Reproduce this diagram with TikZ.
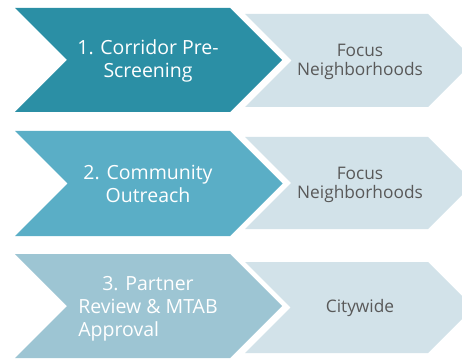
\documentclass[tikz,border=0pt]{standalone}
\usepackage{fontspec}
\usepackage{calc}
\setmainfont{Open Sans}
\definecolor{rowone}{HTML}{2B8FA5}
\definecolor{rowtwo}{HTML}{5AAEC6}
\definecolor{rowthree}{HTML}{9DC5D3}
\definecolor{lightbox}{HTML}{D2E2E9}
\definecolor{graytext}{HTML}{595959}
\begin{document}
\begin{tikzpicture}[x=1pt,y=-1pt,
  darktext/.style={text=white,font=\fontsize{19.5}{23}\selectfont,align=center,inner sep=0pt},
  lighttext/.style={text=graytext,font=\fontsize{17.3}{19.5}\selectfont,align=center,inner sep=0pt}]
\useasboundingbox (0,0) rectangle (462,358);
\clip (0,0) rectangle (462,358);
% dark chevrons
\fill[rowone] (15,8) -- (230,8) -- (282,60) -- (230,112) -- (15,112) -- (67,60) -- cycle;
\fill[rowtwo] (15,131) -- (230,131) -- (282.5,183.5) -- (230,236) -- (15,236) -- (67.5,183.5) -- cycle;
\fill[rowthree] (15,254) -- (230,254) -- (282,306) -- (230,358) -- (15,358) -- (67,306) -- cycle;
% light chevrons
\fill[lightbox] (245,14) -- (428,14) -- (474.5,60.5) -- (428,107) -- (245,107) -- (291.5,60.5) -- cycle;
\fill[lightbox] (245,137) -- (428,137) -- (474,183) -- (428,229) -- (245,229) -- (291,183) -- cycle;
\fill[lightbox] (245,262) -- (428,262) -- (473.5,307.5) -- (428,353) -- (245,353) -- (290.5,307.5) -- cycle;
% texts
\node[darktext] (s1) at (148,61) {1. Corridor Pre-\\Screening};
\node[darktext] (s2) at (148,184) {2. Community\\Outreach};
\node[darktext,align=left] (s3) at (148,309) {\makebox[\widthof{Review \& MTAB}][c]{3. Partner}\\Review \& MTAB\\Approval};
\node[lighttext] (l1) at (360,62) {Focus\\Neighborhoods};
\node[lighttext] (l2) at (360,185) {Focus\\Neighborhoods};
\node[lighttext] (l3) at (360,308) {Citywide};
\end{tikzpicture}
\end{document}
